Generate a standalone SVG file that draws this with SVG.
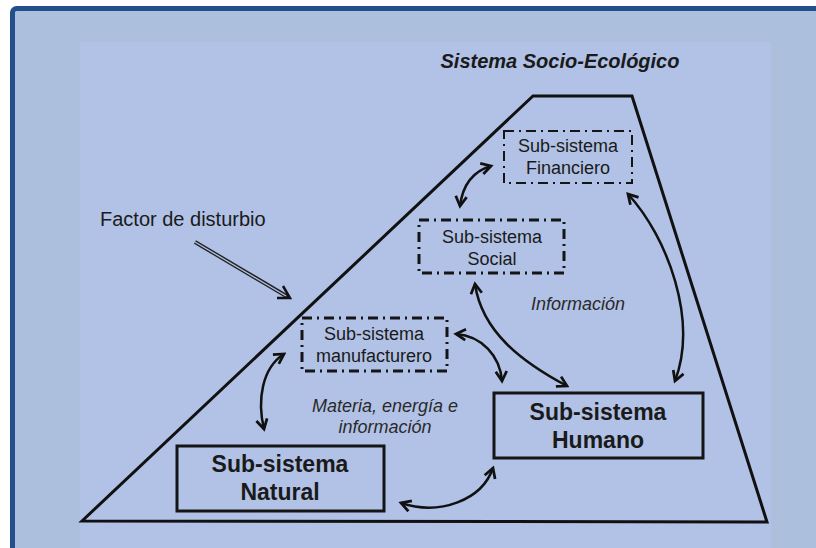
<svg xmlns="http://www.w3.org/2000/svg" width="816" height="548" viewBox="0 0 816 548">
<style>
.t{font-family:"Liberation Sans",Arial,sans-serif;fill:#1a1a1a;text-anchor:middle}
.r{font-size:18px}
.b{font-size:23px;font-weight:bold}
.i{font-size:18px;font-style:italic;fill:#2a2a2a}
.dd{fill:none;stroke:#151515;stroke-dasharray:10 5 2 5}
.solid{fill:none;stroke:#151515;stroke-width:3}
.arr{fill:none;stroke:#111;stroke-width:2.5;marker-start:url(#ah);marker-end:url(#ah)}
</style>
<defs>
<marker id="ah" viewBox="0 0 10 10" refX="8" refY="5" markerWidth="5.5" markerHeight="5.5" orient="auto-start-reverse" markerUnits="strokeWidth">
<path d="M1,1 L8,5 L1,9" fill="none" stroke="#111" stroke-width="2" stroke-linejoin="miter"/>
</marker>
</defs>
<rect x="0" y="0" width="816" height="548" fill="#ffffff"/>
<rect x="12.5" y="8.5" width="820" height="560" rx="4" fill="#acc0de" stroke="#23508a" stroke-width="5"/>
<rect x="80" y="42" width="691" height="520" fill="#b1c2e6"/>
<g id="system">
<polygon points="82,521 533,96 632,96 767,522" fill="none" stroke="#111" stroke-width="3" stroke-linejoin="miter"/>
<text class="t" x="560" y="68" style="font-size:20px;font-weight:bold;font-style:italic">Sistema Socio-Ecológico</text>
</g>
<g id="disturbio">
<text class="t r" x="100" y="226" style="text-anchor:start;font-size:20px">Factor de disturbio</text>
<line x1="195" y1="242" x2="288" y2="297" stroke="#222" stroke-width="4"/>
<line x1="195" y1="242" x2="286" y2="296" stroke="#b1c2e6" stroke-width="1.3"/>
<polyline points="283,286 290,298 277,298" fill="none" stroke="#111" stroke-width="2.5"/>
</g>
<g id="financiero">
<rect class="dd" x="504" y="131" width="128" height="52" stroke-width="2"/>
<text class="t r" x="568" y="152">Sub-sistema</text>
<text class="t r" x="568" y="174">Financiero</text>
</g>
<g id="social">
<rect class="dd" x="419" y="220" width="145" height="53" stroke-width="3"/>
<text class="t r" x="492" y="243">Sub-sistema</text>
<text class="t r" x="492" y="265">Social</text>
</g>
<g id="manufacturero">
<rect class="dd" x="302" y="318" width="145" height="53" stroke-width="3"/>
<text class="t r" x="374" y="340">Sub-sistema</text>
<text class="t r" x="374" y="362">manufacturero</text>
</g>
<g id="humano">
<rect class="solid" x="494" y="393" width="209" height="65"/>
<text class="t b" x="598" y="420">Sub-sistema</text>
<text class="t b" x="598" y="448">Humano</text>
</g>
<g id="natural">
<rect class="solid" x="177" y="446" width="207" height="65"/>
<text class="t b" x="280" y="472">Sub-sistema</text>
<text class="t b" x="280" y="500">Natural</text>
</g>
<g id="labels">
<text class="t i" x="578" y="310">Información</text>
<text class="t i" x="385" y="412">Materia, energía e</text>
<text class="t i" x="385" y="433">información</text>
</g>
<g id="connectors">
<path class="arr" d="M491,166 Q464,174 460,206"/>
<path class="arr" d="M628,194 C668,238 698,320 675,381"/>
<path class="arr" d="M475,284 C482,332 522,362 567,386"/>
<path class="arr" d="M456,334 C482,336 500,356 502,381"/>
<path class="arr" d="M284,354 C262,368 257,400 264,429"/>
<path class="arr" d="M401,503 C440,516 482,500 493,468"/>
</g>
</svg>
